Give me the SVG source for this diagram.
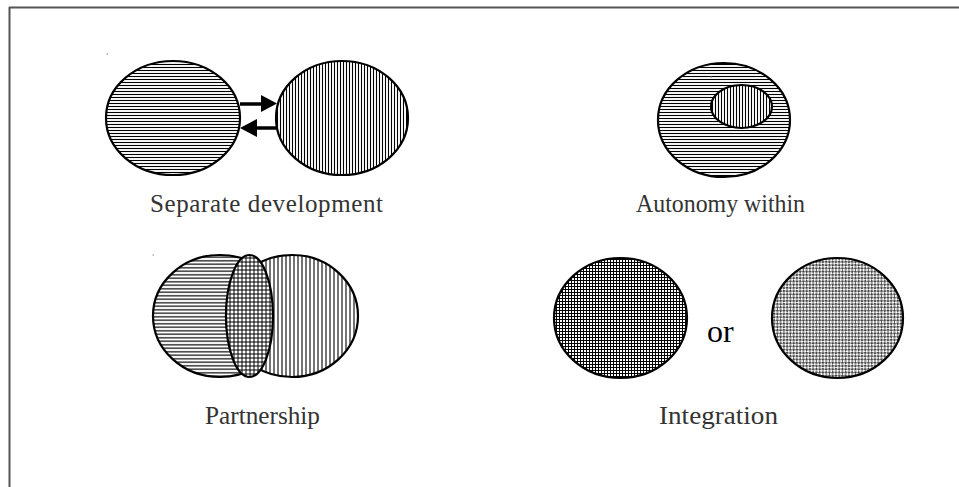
<svg xmlns="http://www.w3.org/2000/svg" width="959" height="487" viewBox="0 0 959 487">
<style>
.out{stroke:#000;stroke-width:2.2}
.lbl{font-family:"Liberation Serif","DejaVu Serif",serif;font-size:25px;fill:#333}
.arr{stroke:#000;stroke-width:3.5;fill:none}
</style>
<defs>
<pattern id="hl" width="4" height="3" patternUnits="userSpaceOnUse"><rect width="4" height="3" fill="#fff"/><line x1="0" y1="1.5" x2="4" y2="1.5" stroke="#000" stroke-width="1.1"/></pattern>
<pattern id="vl" width="3" height="4" patternUnits="userSpaceOnUse"><rect width="3" height="4" fill="#fff"/><line x1="1.5" y1="0" x2="1.5" y2="4" stroke="#000" stroke-width="1.1"/></pattern>
<pattern id="hl2" width="4" height="3.5" patternUnits="userSpaceOnUse"><rect width="4" height="3.5" fill="#fff"/><line x1="0" y1="1.75" x2="4" y2="1.75" stroke="#000" stroke-width="1.2"/></pattern>
<pattern id="vl2" width="4" height="4" patternUnits="userSpaceOnUse"><rect width="4" height="4" fill="#fff"/><line x1="2" y1="0" x2="2" y2="4" stroke="#000" stroke-width="1.1"/></pattern>
<pattern id="grid" width="4" height="4" patternUnits="userSpaceOnUse"><rect width="4" height="4" fill="#fff"/><path d="M0 2H4M2 0V4" stroke="#000" stroke-width="1"/></pattern>
<pattern id="fgrid" width="3" height="3" patternUnits="userSpaceOnUse"><rect width="3" height="3" fill="#fff"/><path d="M0 1.5H3M1.5 0V3" stroke="#000" stroke-width="1"/></pattern>
<pattern id="chk" width="4.6" height="4.6" patternUnits="userSpaceOnUse" patternTransform="rotate(45)"><rect width="4.6" height="4.6" fill="#fff"/><rect width="2.3" height="2.3" fill="#444"/><rect x="2.3" y="2.3" width="2.3" height="2.3" fill="#444"/></pattern>
</defs>
<g id="frame" stroke="#555" stroke-width="2" fill="none">
<line x1="9" y1="7.5" x2="959" y2="7.5"/>
<line x1="9.5" y1="7" x2="9.5" y2="487"/>
</g>
<g id="separate-development">
<ellipse class="out" cx="173" cy="118" rx="67" ry="57" fill="url(#hl)"/>
<ellipse class="out" cx="342" cy="118" rx="66" ry="57" fill="url(#vl)"/>
<text class="lbl" x="150" y="212" textLength="233" lengthAdjust="spacing">Separate development</text>
</g>
<g id="connectors">
<line class="arr" x1="240" y1="104" x2="263" y2="104"/>
<polygon points="261,95 277,103.5 261,112" fill="#000"/>
<line class="arr" x1="276" y1="128" x2="255" y2="128"/>
<polygon points="257,119 240,128 257,137" fill="#000"/>
</g>
<g id="autonomy-within">
<ellipse class="out" cx="724" cy="120" rx="66" ry="57" fill="url(#hl)"/>
<ellipse class="out" cx="741.5" cy="106.5" rx="30.5" ry="21.5" fill="url(#vl)"/>
<text class="lbl" x="636" y="212" textLength="169" lengthAdjust="spacingAndGlyphs">Autonomy within</text>
</g>
<g id="partnership">
<ellipse class="out" cx="220" cy="316" rx="67" ry="61" fill="url(#hl2)"/>
<ellipse class="out" cx="292" cy="316" rx="66" ry="61" fill="url(#vl2)"/>
<ellipse class="out" cx="249.5" cy="316" rx="23.5" ry="61" fill="url(#grid)"/>
<text class="lbl" x="205" y="424" textLength="115" lengthAdjust="spacingAndGlyphs">Partnership</text>
</g>
<g id="integration">
<ellipse class="out" cx="620.5" cy="318" rx="66.5" ry="60" fill="url(#fgrid)"/>
<text x="707" y="342" font-family="Liberation Serif, serif" font-size="32" fill="#000">or</text>
<ellipse class="out" cx="837.5" cy="318" rx="65.5" ry="60" fill="url(#chk)"/>
<text class="lbl" x="659" y="424" textLength="119" lengthAdjust="spacingAndGlyphs">Integration</text>
</g>
<g id="specks" fill="#888">
<rect x="106.5" y="53.5" width="1.5" height="1"/>
<rect x="710.5" y="76.5" width="1.5" height="1"/>
<rect x="152.5" y="254.5" width="1.5" height="1"/>
</g>
</svg>
